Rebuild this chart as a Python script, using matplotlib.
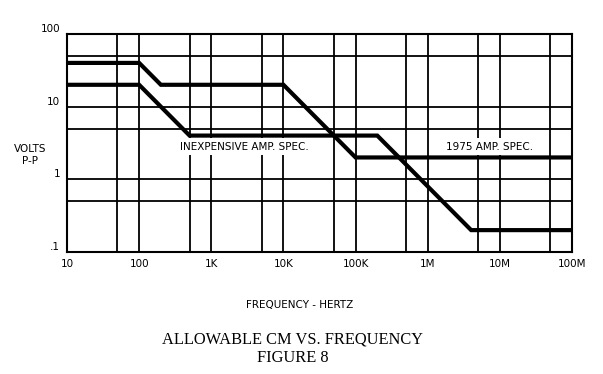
import matplotlib
matplotlib.use("Agg")
import matplotlib.pyplot as plt
from matplotlib.ticker import NullLocator, FixedLocator

# Data
freq_1975 = [10, 100, 200, 10e3, 100e3, 100e6]
volts_1975 = [40, 40, 20, 20, 2, 2]
freq_inexp = [10, 100, 500, 200e3, 4e6, 100e6]
volts_inexp = [20, 20, 4, 4, 0.2, 0.2]

x_ticks = [10, 100, 1e3, 1e4, 1e5, 1e6, 1e7, 1e8]
x_labels = ["10", "100", "1K", "10K", "100K", "1M", "10M", "100M"]
y_ticks = [0.1, 1, 10, 100]
y_labels = [".1", "1", "10", "100"]
x_grid = [50, 100, 500, 1e3, 5e3, 1e4, 5e4, 1e5, 5e5, 1e6, 5e6, 1e7, 5e7]
y_grid = [0.5, 1, 5, 10, 50]

fig = plt.figure(figsize=(6.03, 3.74), dpi=100)
W, H = 603, 374
ax = fig.add_axes([67 / W, 1 - 252 / H, (572 - 67) / W, (252 - 34) / H])
ax.set_xscale("log")
ax.set_yscale("log")
ax.set_xlim(10, 1e8)
ax.set_ylim(0.1, 100)

for g in x_grid:
    ax.axvline(g, color="black", lw=1.3, zorder=1)
for g in y_grid:
    ax.axhline(g, color="black", lw=1.3, zorder=1)
for s in ax.spines.values():
    s.set_linewidth(1.5)

ax.plot(freq_1975, volts_1975, color="black", lw=3, zorder=3, solid_joinstyle="miter")
ax.plot(freq_inexp, volts_inexp, color="black", lw=3, zorder=3, solid_joinstyle="miter")

ax.xaxis.set_major_locator(FixedLocator(x_ticks))
ax.yaxis.set_major_locator(FixedLocator(y_ticks))
ax.xaxis.set_minor_locator(NullLocator())
ax.yaxis.set_minor_locator(NullLocator())
ax.set_xticklabels(x_labels)
ax.set_yticklabels(y_labels)
ax.tick_params(length=0, labelsize=7.5)
ax.tick_params(axis="x", pad=5)
ax.tick_params(axis="y", pad=5)
for lab in ax.get_yticklabels():
    lab.set_verticalalignment("bottom")

fnt = dict(family="DejaVu Sans", fontsize=7.5, color="black")
box = dict(facecolor="white", edgecolor="none", pad=2.5)
ax.text(2.9e3, 2.8, "INEXPENSIVE AMP. SPEC.", ha="center", va="center",
        bbox=box, zorder=2, **fnt)
ax.text(7.1e6, 2.8, "1975 AMP. SPEC.", ha="center", va="center",
        bbox=box, zorder=2, **fnt)

fig.text(30 / W, 1 - 155 / H, "VOLTS\nP-P", ha="center", va="center",
         linespacing=1.3, **fnt)
fig.text(300 / W, 1 - 305 / H, "FREQUENCY - HERTZ", ha="center", va="center", **fnt)
fig.text(292 / W, 1 - 340 / H, "ALLOWABLE CM VS. FREQUENCY", ha="center", va="center",
         family="Liberation Serif", fontsize=11.8)
fig.text(293 / W, 1 - 358 / H, "FIGURE 8", ha="center", va="center",
         family="Liberation Serif", fontsize=11.8)

fig.savefig("out.png", dpi=100)
